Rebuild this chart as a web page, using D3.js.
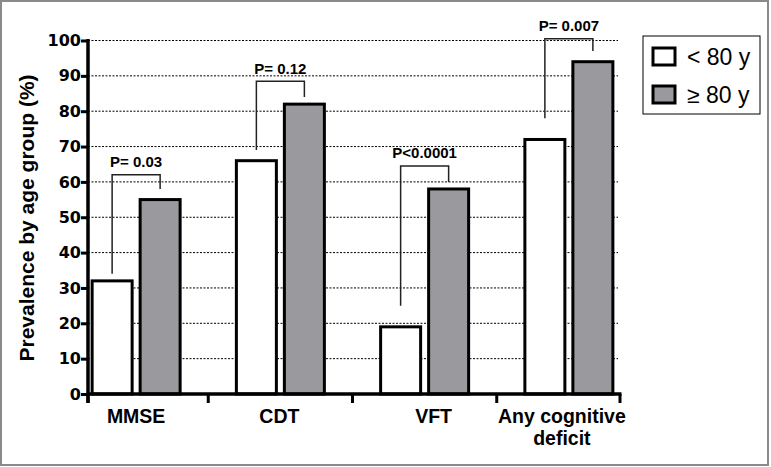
<!DOCTYPE html>
<html>
<head>
<meta charset="utf-8">
<script src="https://cdn.jsdelivr.net/npm/d3@7"></script>
<style>
  body { margin: 0; background: #fff; }
  svg text { font-family: "Liberation Sans", Arial, sans-serif; fill: #000; }
</style>
</head>
<body>
<script>
"use strict";
// chart data
var categories = ['MMSE', 'CDT', 'VFT', 'Any cognitive deficit'];
var under80 = [32, 66, 19, 72];
var over80 = [55, 82, 58, 94];
var pLabels = ['P= 0.03', 'P= 0.12', 'P<0.0001', 'P= 0.007'];
// bracket heights (in % units): top bar, left leg end, right leg end
var bracketTop = [62, 88.5, 64.5, 100.5];
var bracketLeft = [34, 69, 25, 78];
var bracketRight = [58, 84, 60, 97];
var yTicks = [0, 10, 20, 30, 40, 50, 60, 70, 80, 90, 100];
var seriesNames = ['< 80 y', '\u2265 80 y'];
var seriesColors = ['#ffffff', '#9a9a9e'];

(function() {
  var width = 771, height = 467;
  var svg = d3.select('body').append('svg')
    .attr('width', width)
    .attr('height', height);

  // outer frame
  svg.append('rect')
    .attr('x', 1).attr('y', 1)
    .attr('width', 767).attr('height', 464)
    .attr('fill', 'none')
    .attr('stroke', '#8a8a8a')
    .attr('stroke-width', 2);

  var plotLeft = 88, plotRight = 620;
  var y = d3.scaleLinear().domain([0, 100]).range([394, 40.5]);
  var x = d3.scaleBand().domain(categories).range([64, 641]);
  var barW = 40, gap = 8;
  // category labels sit a little off the bar pair centre in the original
  var labelNudge = [0, -1, 9, -7];

  // dotted grid lines
  svg.selectAll('.grid')
    .data(yTicks.filter(function(d) { return d > 0; }))
    .enter().append('line')
      .attr('x1', plotLeft).attr('x2', 618)
      .attr('y1', function(d) { return y(d); })
      .attr('y2', function(d) { return y(d); })
      .attr('stroke', '#000')
      .attr('stroke-width', 1)
      .attr('stroke-dasharray', '2,1.5');

  // bars
  var groups = svg.selectAll('.grp')
    .data(categories)
    .enter().append('g')
      .attr('transform', function(d) { return 'translate(' + (x(d) + x.bandwidth() / 2) + ',0)'; });

  groups.append('rect')
    .attr('x', -barW - gap / 2)
    .attr('y', function(d, i) { return y(under80[i]); })
    .attr('width', barW)
    .attr('height', function(d, i) { return y(0) - y(under80[i]); })
    .attr('fill', seriesColors[0])
    .attr('stroke', '#000')
    .attr('stroke-width', 3);

  groups.append('rect')
    .attr('x', gap / 2)
    .attr('y', function(d, i) { return y(over80[i]); })
    .attr('width', barW)
    .attr('height', function(d, i) { return y(0) - y(over80[i]); })
    .attr('fill', seriesColors[1])
    .attr('stroke', '#000')
    .attr('stroke-width', 3);

  // significance brackets
  var lx = -barW / 2 - gap / 2, rx = barW / 2 + gap / 2;
  groups.append('path')
    .attr('d', function(d, i) {
      return 'M' + lx + ',' + y(bracketLeft[i]) +
        'V' + y(bracketTop[i]) +
        'H' + rx +
        'V' + y(bracketRight[i]);
    })
    .attr('fill', 'none')
    .attr('stroke', '#222')
    .attr('stroke-width', 1.5);

  groups.append('text')
    .attr('x', 0)
    .attr('y', function(d, i) { return y(bracketTop[i]) - 7.5; })
    .attr('text-anchor', 'middle')
    .style('font-size', '15px')
    .style('font-weight', 'bold')
    .text(function(d, i) { return pLabels[i]; });

  // y axis
  var yAxis = svg.append('g')
    .attr('transform', 'translate(' + plotLeft + ',0)')
    .call(d3.axisLeft(y).tickValues(yTicks).tickSize(7).tickPadding(0));
  yAxis.select('.domain').remove();
  yAxis.selectAll('.tick line').attr('stroke', '#000').attr('stroke-width', 3);
  yAxis.selectAll('.tick text')
    .style('font-family', '"DejaVu Sans", sans-serif')
    .style('font-size', '16px')
    .style('font-weight', 'bold');
  svg.append('line')
    .attr('x1', plotLeft).attr('x2', plotLeft)
    .attr('y1', y(100) - 1.5).attr('y2', 403)
    .attr('stroke', '#000').attr('stroke-width', 3.5);

  // x axis
  svg.append('line')
    .attr('x1', plotLeft).attr('x2', plotRight + 1.5)
    .attr('y1', y(0)).attr('y2', y(0))
    .attr('stroke', '#000').attr('stroke-width', 3.5);
  var xTickPos = [plotLeft].concat(categories.slice(1).map(function(d) { return x(d); }), [plotRight]);
  svg.selectAll('.xtick')
    .data(xTickPos)
    .enter().append('line')
      .attr('x1', function(d) { return d; })
      .attr('x2', function(d) { return d; })
      .attr('y1', y(0)).attr('y2', 403)
      .attr('stroke', '#000').attr('stroke-width', 3);

  var xLab = svg.selectAll('.xlab')
    .data(categories)
    .enter().append('text')
      .attr('x', function(d, i) { return x(d) + x.bandwidth() / 2 + labelNudge[i]; })
      .attr('y', 423)
      .attr('text-anchor', 'middle')
      .style('font-size', '19.5px')
      .style('font-weight', 'bold');
  xLab.each(function(d) {
    var t = d3.select(this);
    var lines = d == 'Any cognitive deficit' ? ['Any cognitive', 'deficit'] : [d];
    lines.forEach(function(l, k) {
      t.append('tspan')
        .attr('x', t.attr('x'))
        .attr('dy', k == 0 ? 0 : 22)
        .text(l);
    });
  });

  // y label
  svg.append('text')
    .attr('transform', 'translate(34,218) rotate(-90)')
    .attr('text-anchor', 'middle')
    .style('font-size', '21px')
    .style('font-weight', 'bold')
    .text('Prevalence by age group (%)');

  // legend
  var legend = svg.append('g').attr('transform', 'translate(643,36)');
  legend.append('rect')
    .attr('width', 117).attr('height', 78)
    .attr('fill', '#fff')
    .attr('stroke', '#000')
    .attr('stroke-width', 1);
  seriesNames.forEach(function(name, i) {
    legend.append('rect')
      .attr('x', 10).attr('y', 12 + i * 38)
      .attr('width', 22).attr('height', 17)
      .attr('fill', seriesColors[i])
      .attr('stroke', '#000')
      .attr('stroke-width', 3);
    legend.append('text')
      .attr('x', 44).attr('y', 29 + i * 38)
      .style('font-size', '23px')
      .text(name);
  });
})();
</script>
</body>
</html>
